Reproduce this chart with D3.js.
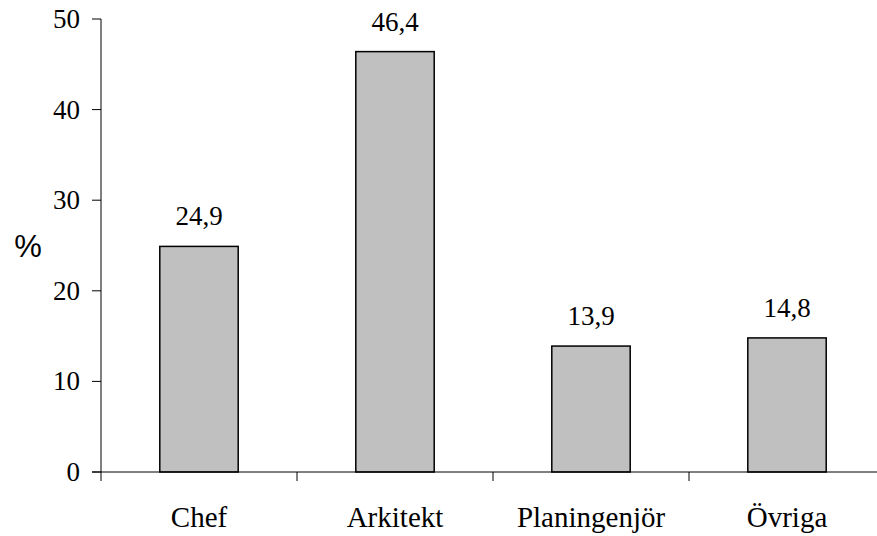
<!DOCTYPE html>
<html><head><meta charset="utf-8">
<script src="https://cdn.jsdelivr.net/npm/d3@7"></script>
<style>body{margin:0;background:#fff}svg{display:block}</style>
</head><body>
<svg id="c" width="877" height="536"></svg>
<script>
const categories = ["Chef", "Arkitekt", "Planingenjör", "Övriga"];
const values = [24.9, 46.4, 13.9, 14.8];
const valueLabels = ["24,9", "46,4", "13,9", "14,8"];
const yTicks = [0, 10, 20, 30, 40, 50];

const svg = d3.select("#c");
const plotLeft = 101, plotTop = 19, plotBottom = 472, band = 196;
const x = d3.scaleBand().domain(categories).range([plotLeft, plotLeft + band * categories.length]).paddingInner(0.6).paddingOuter(0.3);
const y = d3.scaleLinear().domain([0, 50]).range([plotBottom, plotTop]);
const serif = "'Liberation Serif', 'Times New Roman', serif";

// bars
svg.selectAll("rect.bar").data(values).join("rect")
  .attr("x", (d, i) => x(categories[i]))
  .attr("y", d => y(d))
  .attr("width", x.bandwidth())
  .attr("height", d => y(0) - y(d))
  .attr("fill", "#c0c0c0").attr("stroke", "#000").attr("stroke-width", 1.5);

// value labels
svg.selectAll("text.val").data(values).join("text")
  .attr("x", (d, i) => x(categories[i]) + x.bandwidth() / 2)
  .attr("y", d => y(d) - 21)
  .attr("text-anchor", "middle")
  .attr("font-family", serif).attr("font-size", 27).attr("fill", "#000")
  .text((d, i) => valueLabels[i]);

// y axis
svg.append("line").attr("x1", plotLeft).attr("x2", plotLeft).attr("y1", plotTop).attr("y2", plotBottom).attr("stroke", "#000").attr("stroke-width", 1);
svg.selectAll("line.yt").data(yTicks).join("line")
  .attr("x1", plotLeft - 9).attr("x2", plotLeft).attr("y1", d => y(d)).attr("y2", d => y(d))
  .attr("stroke", "#000");
svg.selectAll("text.yl").data(yTicks).join("text")
  .attr("x", 80).attr("y", d => y(d) + 9)
  .attr("text-anchor", "end")
  .attr("font-family", serif).attr("font-size", 27).attr("fill", "#000")
  .text(d => d);

// x axis
svg.append("line").attr("x1", plotLeft - 9).attr("x2", plotLeft + band * categories.length).attr("y1", plotBottom).attr("y2", plotBottom).attr("stroke", "#000");
const xTickPos = d3.range(categories.length + 1).map(i => plotLeft + band * i);
svg.selectAll("line.xt").data(xTickPos).join("line")
  .attr("x1", d => d).attr("x2", d => d).attr("y1", plotBottom).attr("y2", plotBottom + 9)
  .attr("stroke", "#000");
svg.selectAll("text.xl").data(categories).join("text")
  .attr("x", d => x(d) + x.bandwidth() / 2)
  .attr("y", 527)
  .attr("text-anchor", "middle")
  .attr("font-family", serif).attr("font-size", 29).attr("fill", "#000")
  .text(d => d);

// y axis title
svg.append("text").attr("x", 28).attr("y", 257).attr("text-anchor", "middle")
  .attr("font-family", "'Liberation Sans', Arial, sans-serif").attr("font-size", 31).attr("fill", "#000")
  .text("%");
</script>
</body></html>
